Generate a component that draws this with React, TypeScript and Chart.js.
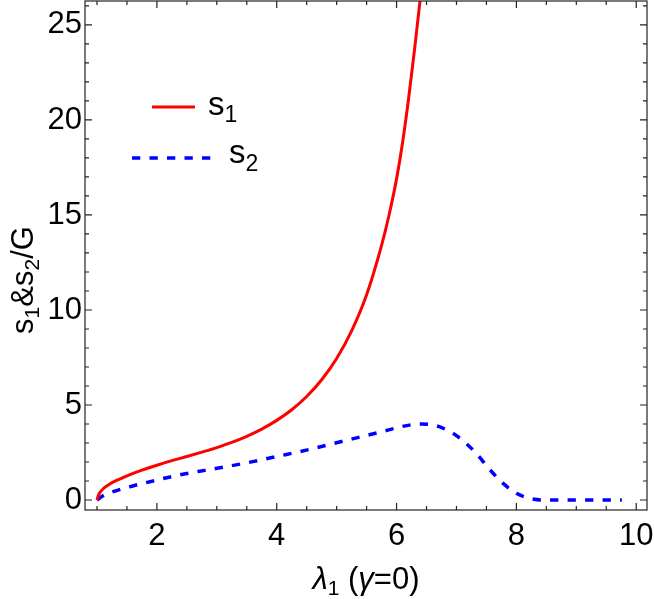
import React, { useEffect, useRef } from "react";
import { Chart, registerables } from "chart.js";

Chart.register(...registerables);

// s1 curve (red, solid)
const redX = [1.0, 1.03, 1.06, 1.1, 1.15, 1.2, 1.3, 1.4, 1.5, 1.75, 2.0, 2.25, 2.5, 2.75, 3.0, 3.25, 3.5, 3.75, 4.0, 4.25, 4.5, 4.75, 5.0, 5.25, 5.5, 5.75, 5.875, 6.0, 6.1, 6.2, 6.3, 6.4, 6.5];
const redY = [0, 0.3, 0.44, 0.58, 0.71, 0.82, 0.99, 1.13, 1.27, 1.57, 1.83, 2.07, 2.29, 2.52, 2.76, 3.03, 3.35, 3.73, 4.19, 4.75, 5.45, 6.33, 7.45, 8.9, 10.8, 13.4, 15.0, 16.9, 18.8, 21.1, 23.7, 26.5, 29.4];

// s2 curve (blue, dashed)
const blueX = [1.0, 1.1, 1.27, 1.55, 2.0, 2.38, 2.8, 3.22, 3.6, 4.05, 4.6, 5.05, 5.5, 5.8, 6.05, 6.25, 6.4, 6.55, 6.7, 6.94, 7.16, 7.33, 7.55, 7.77, 8.0, 8.15, 8.27, 8.43, 9.0, 9.76];
const blueY = [0, 0.22, 0.44, 0.7, 1.05, 1.32, 1.56, 1.79, 2.02, 2.32, 2.7, 3.05, 3.4, 3.63, 3.84, 3.96, 4.0, 3.98, 3.87, 3.51, 2.98, 2.45, 1.62, 0.9, 0.35, 0.15, 0.05, 0.0, 0, 0];

const xTicks = [2, 4, 6, 8, 10];
const yTicks = [0, 5, 10, 15, 20, 25];
const xMinorStep = 0.5;
const yMinorStep = 1;

const FONT = "'Liberation Sans', Arial, sans-serif";

type Seg = { t: string; size: number; dy?: number; italic?: boolean };

function segWidth(ctx: CanvasRenderingContext2D, segs: Seg[]) {
  let w = 0;
  for (const s of segs) {
    ctx.font = `${s.italic ? "italic " : ""}${s.size}px ${FONT}`;
    w += ctx.measureText(s.t).width;
  }
  return w;
}

function drawSegs(ctx: CanvasRenderingContext2D, segs: Seg[], x: number, y: number) {
  let cx = x;
  ctx.textBaseline = "alphabetic";
  ctx.textAlign = "left";
  for (const s of segs) {
    ctx.font = `${s.italic ? "italic " : ""}${s.size}px ${FONT}`;
    ctx.fillText(s.t, cx, y + (s.dy || 0));
    cx += ctx.measureText(s.t).width;
  }
}

const framePlugin = {
  id: "frameTicks",
  afterDatasetsDraw(chart: any) {
    const { ctx, chartArea } = chart;
    const xs = chart.scales.x;
    const ys = chart.scales.y;
    const { left, right, top, bottom } = chartArea;
    ctx.save();
    ctx.strokeStyle = "#222";
    ctx.lineWidth = 1.2;
    ctx.strokeRect(left, top, right - left, bottom - top);
    ctx.beginPath();
    for (let v = 1; v <= 10.001; v += xMinorStep) {
      const px = xs.getPixelForValue(v);
      const major = xTicks.some((t) => Math.abs(t - v) < 1e-6);
      const len = major ? 7 : 4;
      ctx.moveTo(px, bottom);
      ctx.lineTo(px, bottom - len);
      ctx.moveTo(px, top);
      ctx.lineTo(px, top + len);
    }
    for (let v = 0; v <= 26.001; v += yMinorStep) {
      const py = ys.getPixelForValue(v);
      const major = yTicks.some((t) => Math.abs(t - v) < 1e-6);
      const len = major ? 7 : 4;
      ctx.moveTo(left, py);
      ctx.lineTo(left + len, py);
      ctx.moveTo(right, py);
      ctx.lineTo(right - len, py);
    }
    ctx.stroke();
    ctx.restore();
  },
  afterDraw(chart: any) {
    const { ctx, chartArea } = chart;
    ctx.save();
    ctx.fillStyle = "#000";
    // legend
    ctx.strokeStyle = "#ff0000";
    ctx.lineWidth = 3;
    ctx.setLineDash([]);
    ctx.beginPath();
    ctx.moveTo(152, 107);
    ctx.lineTo(195, 107);
    ctx.stroke();
    drawSegs(ctx, [{ t: "s", size: 33 }, { t: "1", size: 23, dy: 7 }], 208, 115);
    ctx.strokeStyle = "#0000ff";
    ctx.lineWidth = 3.5;
    ctx.setLineDash([8.3, 9.2]);
    ctx.beginPath();
    ctx.moveTo(132, 158);
    ctx.lineTo(210.5, 158);
    ctx.stroke();
    ctx.setLineDash([]);
    drawSegs(ctx, [{ t: "s", size: 33 }, { t: "2", size: 23, dy: 8 }], 229, 163);

    // x title
    const xt: Seg[] = [
      { t: "\u03bb", size: 31, italic: true },
      { t: "1", size: 21, dy: 6 },
      { t: " (", size: 31 },
      { t: "\u03b3", size: 31, italic: true },
      { t: "=0)", size: 31 },
    ];
    const cx = (chartArea.left + chartArea.right) / 2;
    const wx = segWidth(ctx, xt);
    drawSegs(ctx, xt, cx - wx / 2, 589);

    // y title
    const yt: Seg[] = [
      { t: "s", size: 31 },
      { t: "1", size: 21, dy: 6 },
      { t: "&s", size: 31 },
      { t: "2", size: 21, dy: 6 },
      { t: "/G", size: 31 },
    ];
    const wy = segWidth(ctx, yt);
    ctx.translate(33, 280);
    ctx.rotate(-Math.PI / 2);
    drawSegs(ctx, yt, -wy / 2, 0);
    ctx.restore();
  },
};

export default function App() {
  const ref = useRef<HTMLCanvasElement>(null);
  useEffect(() => {
    document.body.style.margin = "0";
    const canvas = ref.current!;
    const chart = new Chart(canvas, {
      type: "line",
      data: {
        datasets: [
          {
            label: "s1",
            data: redX.map((x, i) => ({ x, y: redY[i] })),
            borderColor: "#ff0000",
            borderWidth: 3,
            pointRadius: 0,
            cubicInterpolationMode: "monotone",
            fill: false,
          },
          {
            label: "s2",
            data: blueX.map((x, i) => ({ x, y: blueY[i] })),
            borderColor: "#0000ff",
            borderWidth: 3.5,
            borderDash: [8.3, 9.2],
            pointRadius: 0,
            cubicInterpolationMode: "monotone",
            fill: false,
          },
        ],
      },
      options: {
        responsive: false,
        animation: false,
        devicePixelRatio: 1,
        layout: { padding: { top: 1, right: 7, left: 0, bottom: 0 } },
        plugins: { legend: { display: false }, tooltip: { enabled: false } },
        scales: {
          x: {
            type: "linear",
            min: 0.8,
            max: 10.18,
            afterBuildTicks: (s: any) => {
              s.ticks = xTicks.map((v) => ({ value: v }));
            },
            afterFit: (s: any) => {
              s.height = 89;
              s.paddingLeft = 0;
              s.paddingRight = 0;
            },
            grid: { display: false, drawTicks: false },
            border: { display: false },
            ticks: {
              font: { family: FONT, size: 31 },
              color: "#000",
              padding: 8,
              maxRotation: 0,
              autoSkip: false,
            },
          },
          y: {
            type: "linear",
            min: -0.526,
            max: 26.26,
            afterBuildTicks: (s: any) => {
              s.ticks = yTicks.map((v) => ({ value: v }));
            },
            afterFit: (s: any) => {
              s.width = 85;
              s.paddingTop = 0;
              s.paddingBottom = 0;
            },
            grid: { display: false, drawTicks: false },
            border: { display: false },
            ticks: {
              font: { family: FONT, size: 31 },
              color: "#000",
              padding: 3,
              autoSkip: false,
            },
          },
        },
      },
      plugins: [framePlugin],
    } as any);
    return () => chart.destroy();
  }, []);
  return (
    <div style={{ position: "fixed", left: 0, top: 0, width: 654, height: 599 }}>
      <canvas ref={ref} width={654} height={599} style={{ width: 654, height: 599, display: "block" }} />
    </div>
  );
}
